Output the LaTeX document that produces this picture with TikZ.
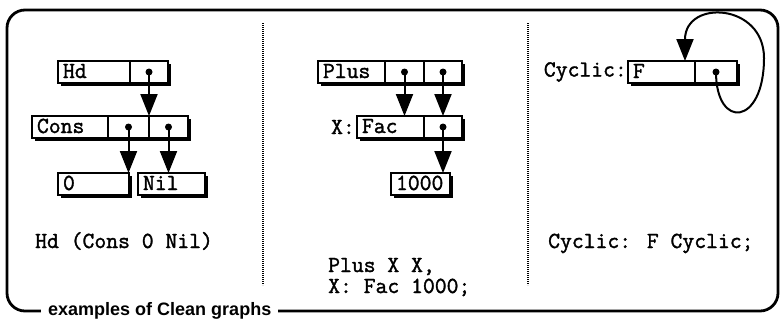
\documentclass[tikz,border=0pt]{standalone}
\usepackage{fontspec}
\newfontfamily\labelfont{Liberation Sans}
\newfontfamily\typefont[FakeBold=1.6]{Latin Modern Mono}
\newcommand\courierish{\typefont\fontsize{23bp}{23bp}\selectfont}
\usetikzlibrary{arrows.meta,positioning,shadows}

\tikzset{
  cell/.style={draw,line width=1.8bp,fill=white,outer sep=0pt,inner xsep=5bp,inner ysep=0pt,
    minimum height=22bp,text width=#1bp,align=left,anchor=west,text height=12bp,text depth=0pt,
    font=\courierish,
    general shadow={fill=black,shadow xshift=2.6bp,shadow yshift=-2.6bp}},
  dot/.style={circle,fill=black,inner sep=0pt,minimum size=7bp},
  ptr/.style={-{Triangle[length=22bp,width=17bp]},line width=2bp},
  txt/.style={inner sep=0pt,font=\courierish},
  divider/.style={line width=2bp,dash pattern=on 1bp off 1bp},
}

\begin{document}
\begin{tikzpicture}[x=1bp,y=-1bp]
\useasboundingbox (0,0) rectangle (783,323);
\draw[line width=2.8bp,rounded corners=18bp] (7,10) rectangle (778,311);
\node[fill=white,inner xsep=7bp,inner ysep=2bp,anchor=west,
  font=\labelfont\bfseries\fontsize{18bp}{18bp}\selectfont] (caption) at (41,311) {examples of Clean graphs};
\foreach \x in {263,528}{\draw[divider] (\x,23) -- (\x,285);}

% Hd (Cons 0 Nil)
\node[cell=62] (hd) at (58,72) {Hd};
\node[cell=28,right=0pt of hd] (hdp) {};
\node[cell=66] (cons) at (32,127) {Cons};
\node[cell=31,right=0pt of cons] (consa) {};
\node[cell=29,right=0pt of consa] (consb) {};
\node[cell=61] (zero) at (58,184) {0};
\node[cell=57] (nil) at (138,184) {Nil};
\foreach \c in {hdp,consa,consb}{\node[dot] (\c d) at (\c.center) {};}
\draw[ptr] (hdpd.center) -- (hdpd |- cons.north);
\draw[ptr] (consad.center) -- (consad |- zero.north);
\draw[ptr] (consbd.center) -- (consbd |- nil.north);
\node[txt,anchor=base west] (hdterm) at (35,248) {Hd (Cons 0 Nil)};

% Plus X X, X: Fac 1000;
\node[cell=57] (plus) at (318,72) {Plus};
\node[cell=29,right=0pt of plus] (plusa) {};
\node[cell=28,right=0pt of plusa] (plusb) {};
\node[cell=57] (fac) at (357,127) {Fac};
\node[cell=28,right=0pt of fac] (faca) {};
\node[txt,left=2bp of fac] (xlab) {X:};
\node[cell=49] (num) at (391,184) {1000};
\foreach \c in {plusa,plusb,faca}{\node[dot] (\c d) at (\c.center) {};}
\draw[ptr] (plusad.center) -- (plusad |- fac.north);
\draw[ptr] (plusbd.center) -- (plusbd |- fac.north);
\draw[ptr] (facad.center) -- (facad |- num.north);
\node[txt,anchor=base west] (plusterm) at (328,272) {Plus X X,};
\node[txt,anchor=base west] (facterm) at (328,293) {X: Fac 1000;};

% Cyclic: F Cyclic;
\node[cell=57] (f) at (628,72) {F};
\node[cell=32,right=0pt of f] (fa) {};
\node[txt,left=1bp of f] (cyclab) {Cyclic:};
\node[dot] (fad) at (fa.center) {};
\coordinate (loopright) at (764,58);
\coordinate (loopend) at ([xshift=-10bp]f.north east);
\draw[ptr] (fad.center) .. controls +(0,58) and +(0,68) .. (loopright)
  .. controls +(0,-55) and +(0,-62) .. (loopend);
\node[txt,anchor=base west] (cycterm) at (548,248) {Cyclic: F Cyclic;};
\end{tikzpicture}
\end{document}
